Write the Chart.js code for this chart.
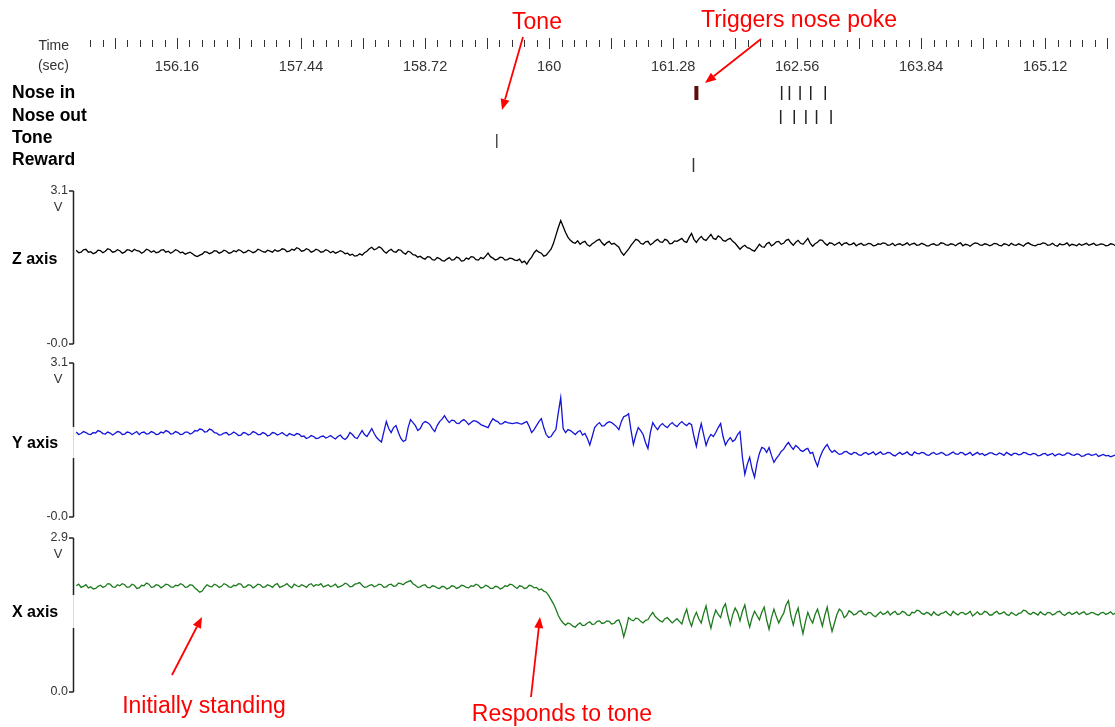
<!DOCTYPE html>
<html><head><meta charset="utf-8">
<script src="https://cdn.jsdelivr.net/npm/chart.js@4"></script>
<style>
html,body{margin:0;padding:0;background:#fff;}
#wrap{position:relative;width:1115px;height:727px;background:#fff;}
canvas{display:block;}
</style></head>
<body><div id="wrap"><canvas id="c" width="1115" height="727"></canvas></div>
<script>
// ---- data ----
const sampleStart = 155.12;   // s, first sample
const sampleStep = 0.025;     // s between samples
const timeTickLabels = ['156.16','157.44','158.72','160','161.28','162.56','163.84','165.12'];
const eventRows = ['Nose in','Nose out','Tone','Reward'];
const noseInHold = [161.52];
const noseInTimes = [162.40,162.48,162.59,162.70,162.85];
const noseOutTimes = [162.39,162.53,162.65,162.76,162.91];
const toneTimes = [159.46];
const rewardTimes = [161.49];
const panelNames = ['Z axis','Y axis','X axis'];
const panelMaxLabels = ['3.1','3.1','2.9'];
const panelMinLabels = ['-0.0','-0.0','0.0'];
const panelMax = [3.1,3.1,2.9];
const annotations = ['Tone','Triggers nose poke','Initially standing','Responds to tone'];

const zValues = [
1.90,1.85,1.86,1.91,1.92,1.86,1.87,1.83,1.85,1.90,1.89,1.85,1.88,1.93,1.91,1.86,1.87,1.91,1.89,1.84,
1.86,1.91,1.90,1.87,1.92,1.89,1.88,1.84,1.87,1.92,1.90,1.86,1.89,1.85,1.86,1.90,1.91,1.86,1.88,1.84,
1.87,1.91,1.89,1.85,1.86,1.82,1.84,1.86,1.83,1.79,1.77,1.80,1.82,1.87,1.86,1.83,1.85,1.89,1.88,1.84,
1.86,1.90,1.88,1.84,1.85,1.89,1.87,1.91,1.89,1.85,1.86,1.90,1.88,1.85,1.87,1.92,1.90,1.87,1.86,1.90,
1.88,1.86,1.91,1.88,1.89,1.93,1.92,1.87,1.88,1.92,1.90,1.95,1.93,1.88,1.89,1.93,1.91,1.86,1.88,1.92,
1.90,1.86,1.87,1.91,1.89,1.85,1.88,1.84,1.86,1.89,1.87,1.83,1.84,1.80,1.82,1.78,1.79,1.83,1.80,1.85,
1.88,1.93,1.96,1.91,1.93,1.97,1.94,1.88,1.84,1.89,1.92,1.87,1.86,1.91,1.90,1.85,1.82,1.88,1.86,1.81,
1.80,1.76,1.78,1.74,1.72,1.77,1.76,1.71,1.70,1.75,1.73,1.69,1.68,1.72,1.75,1.70,1.71,1.76,1.74,1.68,
1.69,1.74,1.72,1.77,1.76,1.71,1.70,1.75,1.73,1.78,1.84,1.77,1.74,1.70,1.72,1.76,1.75,1.70,1.71,1.74,
1.73,1.70,1.69,1.72,1.65,1.68,1.62,1.70,1.76,1.85,1.90,1.86,1.84,1.78,1.80,1.86,1.92,2.04,2.20,2.36,
2.50,2.38,2.26,2.16,2.10,2.06,2.04,2.09,2.02,2.06,2.08,2.01,1.98,2.03,2.06,2.10,2.12,2.05,2.00,2.05,
2.08,2.02,2.04,2.00,1.96,1.86,1.80,1.86,1.92,2.00,2.06,2.12,2.10,2.04,2.02,2.07,2.08,2.01,2.04,2.09,
2.12,2.07,2.06,2.12,2.10,2.03,2.04,2.09,2.08,2.11,2.14,2.08,2.06,2.16,2.24,2.12,2.06,2.13,2.18,2.12,
2.10,2.16,2.22,2.14,2.12,2.19,2.16,2.10,2.08,2.12,2.14,2.08,2.04,1.98,1.92,1.97,2.00,1.95,1.94,1.90,
1.88,1.95,2.02,1.97,1.96,2.03,2.06,1.99,2.02,2.07,2.08,2.02,2.04,2.10,2.12,2.05,2.00,2.06,2.10,2.04,
2.02,2.08,2.14,2.04,1.98,2.03,2.06,2.11,2.10,2.04,2.00,2.05,2.04,2.00,2.03,2.06,2.00,2.04,2.05,2.01,
2.02,2.05,1.99,2.02,2.04,2.00,2.01,2.04,2.03,1.99,2.00,2.03,2.02,2.05,2.04,2.00,2.01,2.04,1.99,2.02,
2.03,2.00,2.02,2.05,2.00,2.03,2.04,2.00,2.01,2.04,2.02,1.99,1.99,2.02,2.03,2.00,2.01,2.05,2.04,2.01,
2.00,2.03,2.02,1.99,2.03,2.05,1.99,2.02,2.01,1.98,2.02,2.05,2.04,2.01,2.00,2.03,2.02,1.99,2.01,2.04,
2.03,2.00,1.99,2.03,2.02,1.99,2.04,2.01,2.00,2.03,2.01,1.98,2.03,2.05,2.02,2.00,1.99,2.02,2.02,2.05,
2.04,2.00,2.01,2.04,2.00,1.98,2.03,2.01,2.02,2.05,1.99,2.02,2.01,1.99,2.03,2.00,2.02,2.04,2.00,2.02,
2.04,2.00,2.01,2.03,2.02,1.99,2.00,2.03,2.02,1.99,2.01,2.03];

const yValues = [
1.71,1.66,1.68,1.72,1.70,1.67,1.66,1.70,1.69,1.74,1.72,1.68,1.67,1.71,1.69,1.65,1.68,1.72,1.71,1.66,
1.67,1.71,1.70,1.66,1.69,1.72,1.66,1.70,1.71,1.67,1.68,1.72,1.70,1.66,1.67,1.71,1.69,1.74,1.72,1.67,
1.68,1.72,1.70,1.66,1.67,1.71,1.71,1.67,1.69,1.74,1.73,1.77,1.76,1.71,1.72,1.77,1.75,1.70,1.69,1.65,
1.66,1.69,1.70,1.65,1.67,1.71,1.68,1.64,1.65,1.70,1.69,1.65,1.67,1.72,1.70,1.66,1.66,1.70,1.68,1.63,
1.65,1.70,1.69,1.65,1.67,1.70,1.66,1.63,1.68,1.66,1.64,1.68,1.67,1.62,1.63,1.58,1.60,1.64,1.62,1.58,
1.59,1.62,1.63,1.59,1.61,1.64,1.60,1.57,1.62,1.65,1.59,1.56,1.61,1.70,1.66,1.60,1.58,1.66,1.74,1.66,
1.62,1.70,1.78,1.68,1.60,1.55,1.51,1.72,1.92,1.78,1.70,1.80,1.84,1.70,1.58,1.52,1.55,1.80,1.96,1.90,
1.84,1.74,1.78,1.88,1.92,1.90,1.86,1.78,1.72,1.84,1.92,1.97,2.04,1.96,1.90,1.95,1.94,1.89,1.88,1.93,
1.96,1.92,1.86,1.90,1.94,1.93,1.90,1.86,1.84,1.82,1.80,1.90,1.98,1.94,1.92,1.87,1.88,1.92,1.90,1.89,
1.88,1.89,1.90,1.88,1.87,1.90,1.92,1.82,1.70,1.76,1.84,1.92,1.98,1.80,1.66,1.60,1.62,1.70,1.76,2.10,
2.40,1.78,1.70,1.76,1.74,1.70,1.66,1.71,1.74,1.65,1.68,1.58,1.45,1.62,1.80,1.86,1.90,1.83,1.84,1.89,
1.92,1.90,1.86,1.82,1.76,1.92,2.02,2.04,2.08,1.75,1.46,1.65,1.80,1.74,1.66,1.50,1.38,1.70,1.90,1.82,
1.76,1.84,1.88,1.83,1.80,1.86,1.90,1.85,1.82,1.88,1.92,1.87,1.84,1.89,1.86,1.62,1.42,1.68,1.88,1.66,
1.44,1.58,1.66,1.62,1.70,1.80,1.88,1.62,1.45,1.54,1.60,1.52,1.56,1.66,1.72,1.20,0.86,1.06,1.20,0.96,
0.80,1.08,1.28,1.40,1.38,1.30,1.40,1.24,1.10,1.18,1.24,1.32,1.36,1.44,1.50,1.42,1.36,1.44,1.40,1.34,
1.32,1.36,1.38,1.28,1.30,1.14,1.02,1.20,1.32,1.40,1.46,1.36,1.30,1.34,1.30,1.26,1.27,1.31,1.32,1.28,
1.26,1.30,1.29,1.25,1.24,1.28,1.30,1.26,1.28,1.31,1.25,1.28,1.31,1.26,1.27,1.30,1.29,1.25,1.23,1.27,
1.30,1.26,1.28,1.31,1.26,1.24,1.31,1.28,1.27,1.30,1.29,1.25,1.24,1.28,1.30,1.26,1.27,1.30,1.28,1.24,
1.25,1.28,1.31,1.27,1.26,1.30,1.29,1.25,1.27,1.30,1.24,1.27,1.30,1.26,1.28,1.24,1.26,1.29,1.29,1.26,
1.25,1.29,1.27,1.24,1.30,1.27,1.24,1.28,1.28,1.25,1.26,1.30,1.29,1.26,1.25,1.28,1.27,1.23,1.24,1.27,
1.28,1.24,1.26,1.28,1.23,1.26,1.27,1.24,1.25,1.29,1.28,1.25,1.24,1.27,1.26,1.22,1.23,1.26,1.27,1.24,
1.25,1.27,1.22,1.24,1.26,1.23,1.24,1.21,1.23,1.25,1.22,1.21];

const xValues = [
2.00,2.03,1.97,1.99,2.02,1.96,1.98,1.94,1.95,1.99,2.01,1.97,1.99,2.04,2.03,1.98,1.97,2.02,2.00,2.04,
2.02,1.97,1.98,2.03,2.01,1.95,1.96,2.01,2.00,2.05,2.03,1.97,1.98,2.02,2.01,1.96,1.99,2.03,2.02,1.98,
1.97,2.01,2.00,2.04,2.02,1.97,1.98,2.02,2.01,1.96,1.92,1.88,1.90,1.97,2.02,1.99,1.98,2.03,2.01,1.97,
1.99,2.04,2.02,1.98,1.97,2.01,2.00,2.04,2.03,1.97,1.98,2.02,2.01,1.96,1.99,2.03,2.02,1.97,1.98,2.02,
2.00,1.97,2.02,2.04,1.97,1.99,2.01,2.04,1.99,1.96,2.03,2.00,1.98,2.02,2.00,1.97,2.02,2.04,1.99,2.02,
2.01,2.04,1.98,2.00,2.02,1.98,2.00,2.03,1.97,1.99,2.01,2.05,2.03,1.98,1.99,2.03,2.04,2.06,2.01,1.97,
1.98,2.01,2.02,1.98,2.00,2.03,2.02,1.97,1.98,2.02,2.03,1.99,2.00,2.05,2.04,2.02,2.06,2.08,2.10,2.04,
2.01,1.97,1.98,2.01,2.02,1.97,1.96,2.00,1.99,1.96,1.95,1.99,1.98,1.94,1.96,2.00,1.99,1.95,1.97,2.01,
2.00,1.97,1.96,2.00,1.99,2.03,2.01,1.96,1.97,2.01,1.99,1.95,1.95,1.99,1.98,1.94,1.96,2.00,1.99,2.03,
2.02,1.98,1.95,2.00,1.99,1.95,1.96,2.01,2.00,1.96,1.97,1.92,1.94,1.90,1.88,1.82,1.74,1.66,1.56,1.44,
1.36,1.30,1.26,1.30,1.28,1.24,1.22,1.27,1.30,1.25,1.26,1.30,1.32,1.27,1.28,1.33,1.34,1.29,1.30,1.34,
1.33,1.28,1.29,1.34,1.36,1.24,1.04,1.20,1.40,1.36,1.34,1.39,1.38,1.33,1.30,1.35,1.36,1.44,1.50,1.42,
1.38,1.34,1.32,1.38,1.40,1.35,1.30,1.34,1.38,1.33,1.28,1.44,1.56,1.36,1.24,1.40,1.50,1.38,1.30,1.48,
1.62,1.38,1.20,1.40,1.54,1.46,1.40,1.58,1.66,1.44,1.26,1.46,1.58,1.50,1.34,1.52,1.64,1.40,1.22,1.40,
1.52,1.44,1.36,1.50,1.60,1.36,1.18,1.40,1.56,1.42,1.30,1.40,1.48,1.64,1.72,1.44,1.26,1.46,1.58,1.30,
1.10,1.32,1.50,1.38,1.30,1.46,1.56,1.40,1.24,1.44,1.60,1.34,1.14,1.30,1.46,1.56,1.52,1.40,1.44,1.53,
1.50,1.45,1.47,1.52,1.53,1.47,1.45,1.50,1.49,1.44,1.42,1.47,1.51,1.46,1.48,1.52,1.45,1.49,1.52,1.46,
1.47,1.52,1.50,1.45,1.44,1.50,1.49,1.54,1.53,1.48,1.46,1.50,1.48,1.44,1.51,1.46,1.44,1.48,1.49,1.52,
1.47,1.44,1.52,1.48,1.45,1.49,1.50,1.46,1.48,1.52,1.43,1.47,1.51,1.46,1.47,1.52,1.50,1.45,1.45,1.49,
1.52,1.47,1.48,1.51,1.46,1.44,1.50,1.47,1.44,1.48,1.49,1.54,1.53,1.48,1.46,1.50,1.48,1.45,1.51,1.47,
1.45,1.50,1.49,1.45,1.47,1.51,1.52,1.47,1.44,1.48,1.50,1.46,1.48,1.51,1.46,1.49,1.51,1.46,1.47,1.50,
1.49,1.46,1.45,1.49,1.50,1.46,1.48,1.51,1.46,1.49,1.49,1.47];

// ---- build ----
const toPoints = arr => arr.map((v, i) => ({x: +(sampleStart + i * sampleStep).toFixed(4), y: v}));
const evPoints = (times, row) => times.map(t => ({x: t, y: row}));
const FONT = '"Liberation Sans", Arial, Helvetica, sans-serif';

// pixel bands for each scale (layout only)
const plotLeft = 74, plotRight = 1115;
const bands = {yEv: [81, 177], yZ: [191, 344], yY: [363, 517], yX: [538, 692]};
const panelIds = ['yZ', 'yY', 'yX'];
const panelLabelY = [260, 444, 613];
const panelGap = [null, [427, 458], [595, 628]];

const layoutPlugin = {
  id: 'bandLayout',
  afterLayout(chart) {
    const xs = chart.scales.x;
    xs.left = plotLeft; xs.right = plotRight; xs.width = plotRight - plotLeft;
    xs.configure();
    for (const id in bands) {
      const s = chart.scales[id];
      s.top = bands[id][0];
      s.bottom = bands[id][1];
      s.height = s.bottom - s.top;
      s.configure();
    }
  }
};

function arrow(ctx, x1, y1, x2, y2) {
  const a = Math.atan2(y2 - y1, x2 - x1), L = 11, W = 4.5;
  const bx = x2 - L * Math.cos(a), by = y2 - L * Math.sin(a);
  ctx.strokeStyle = '#ff0000'; ctx.fillStyle = '#ff0000'; ctx.lineWidth = 1.8;
  ctx.beginPath(); ctx.moveTo(x1, y1); ctx.lineTo(bx, by); ctx.stroke();
  ctx.beginPath(); ctx.moveTo(x2, y2);
  ctx.lineTo(bx + W * Math.sin(a), by - W * Math.cos(a));
  ctx.lineTo(bx - W * Math.sin(a), by + W * Math.cos(a));
  ctx.closePath(); ctx.fill();
}

const decorPlugin = {
  id: 'decor',
  beforeDatasetsDraw(chart) {
    const ctx = chart.ctx, xs = chart.scales.x, left = plotLeft;
    ctx.save();
    // time ruler
    ctx.strokeStyle = '#333'; ctx.lineWidth = 1;
    for (let k = -7; k <= 75; k++) {
      const t = 156.16 + k * 0.128;
      const px = Math.round(xs.getPixelForValue(t)) + 0.5;
      const tall = k % 5 === 0;
      ctx.beginPath(); ctx.moveTo(px, tall ? 38 : 40); ctx.lineTo(px, tall ? 49 : 47); ctx.stroke();
    }
    ctx.fillStyle = '#333'; ctx.font = '14.5px ' + FONT; ctx.textAlign = 'center'; ctx.textBaseline = 'middle';
    timeTickLabels.forEach(l => ctx.fillText(l, xs.getPixelForValue(parseFloat(l)), 67));
    ctx.font = '14px ' + FONT; ctx.textAlign = 'right';
    ctx.fillText('Time', 69, 46); ctx.fillText('(sec)', 69, 66);
    // event labels
    ctx.fillStyle = '#000'; ctx.font = 'bold 17.5px ' + FONT; ctx.textAlign = 'left';
    [93, 116, 138, 160].forEach((y, i) => ctx.fillText(eventRows[i], 12, y));
    // panels
    panelIds.forEach((id, i) => {
      const s = chart.scales[id];
      const top = s.getPixelForValue(panelMax[i]), bot = s.getPixelForValue(0);
      ctx.strokeStyle = '#222'; ctx.lineWidth = 1.5;
      const x = left - 0.5;
      ctx.beginPath();
      if (panelGap[i]) {
        ctx.moveTo(x, top); ctx.lineTo(x, panelGap[i][0]);
        ctx.moveTo(x, panelGap[i][1]); ctx.lineTo(x, bot);
      } else { ctx.moveTo(x, top); ctx.lineTo(x, bot); }
      ctx.moveTo(left - 5, top); ctx.lineTo(x, top);
      ctx.moveTo(left - 5, bot); ctx.lineTo(x, bot);
      ctx.stroke();
      if (panelGap[i]) {
        ctx.strokeStyle = '#dcdcdc'; ctx.lineWidth = 1;
        ctx.beginPath(); ctx.moveTo(x, panelGap[i][0]); ctx.lineTo(x, panelGap[i][1]); ctx.stroke();
      }
      ctx.fillStyle = '#333'; ctx.font = '12.5px ' + FONT; ctx.textAlign = 'right'; ctx.textBaseline = 'middle';
      ctx.fillText(panelMaxLabels[i], left - 6, top);
      ctx.fillText(panelMinLabels[i], left - 6, bot);
      ctx.textAlign = 'center'; ctx.font = '13px ' + FONT;
      ctx.fillText('V', left - 16, top + 16);
      ctx.fillStyle = '#000'; ctx.font = 'bold 16px ' + FONT; ctx.textAlign = 'left';
      ctx.fillText(panelNames[i], 12, panelLabelY[i]);
    });
    ctx.restore();
  },
  afterDatasetsDraw(chart) {
    const ctx = chart.ctx;
    ctx.save();
    ctx.fillStyle = '#ff0000'; ctx.font = '23px ' + FONT; ctx.textAlign = 'center'; ctx.textBaseline = 'middle';
    ctx.fillText(annotations[0], 537, 23);
    ctx.fillText(annotations[1], 799, 21);
    ctx.fillText(annotations[2], 204, 707);
    ctx.fillText(annotations[3], 562, 715);
    arrow(ctx, 523, 37, 502, 110);
    arrow(ctx, 761, 39, 705, 83);
    arrow(ctx, 172, 675, 202, 617);
    arrow(ctx, 531, 697, 540, 617);
    ctx.restore();
  }
};

const traceStyle = (color) => ({borderColor: color, borderWidth: 1.3, pointRadius: 0, tension: 0, fill: false, xAxisID: 'x', clip: false});
const evStyle = (color, w) => ({type: 'line', showLine: false, pointStyle: 'line', pointRotation: 90, pointRadius: 7,
  pointBorderColor: color, pointBorderWidth: w, pointBackgroundColor: color, xAxisID: 'x', yAxisID: 'yEv', clip: false});

new Chart(document.getElementById('c'), {
  type: 'line',
  data: {
    datasets: [
      Object.assign({label: 'Z axis', data: toPoints(zValues), yAxisID: 'yZ'}, traceStyle('#000000')),
      Object.assign({label: 'Y axis', data: toPoints(yValues), yAxisID: 'yY'}, traceStyle('#1414d8')),
      Object.assign({label: 'X axis', data: toPoints(xValues), yAxisID: 'yX'}, traceStyle('#1d7a1d')),
      Object.assign({label: 'Nose in hold', data: evPoints(noseInHold, 4)}, evStyle('#5e0d0d', 4)),
      Object.assign({label: 'Nose in', data: evPoints(noseInTimes, 4)}, evStyle('#222', 1.5)),
      Object.assign({label: 'Nose out', data: evPoints(noseOutTimes, 3)}, evStyle('#222', 1.5)),
      Object.assign({label: 'Tone', data: evPoints(toneTimes, 2), pointRadius: 6}, evStyle('#333', 1.3)),
      Object.assign({label: 'Reward', data: evPoints(rewardTimes, 1)}, evStyle('#333', 1.5))
    ]
  },
  options: {
    responsive: false, animation: false, events: [],
    layout: {autoPadding: false, padding: {left: 74, right: 0, top: 0, bottom: 0}},
    plugins: {legend: {display: false}, tooltip: {enabled: false}},
    scales: {
      x: {type: 'linear', min: 155.097, max: 165.84, display: false},
      yEv: {type: 'linear', min: 0.5, max: 4.5, display: false},
      yZ: {type: 'linear', min: 0, max: 3.1, display: false},
      yY: {type: 'linear', min: 0, max: 3.1, display: false},
      yX: {type: 'linear', min: 0, max: 2.9, display: false}
    }
  },
  plugins: [layoutPlugin, decorPlugin]
});
</script>
</body></html>
